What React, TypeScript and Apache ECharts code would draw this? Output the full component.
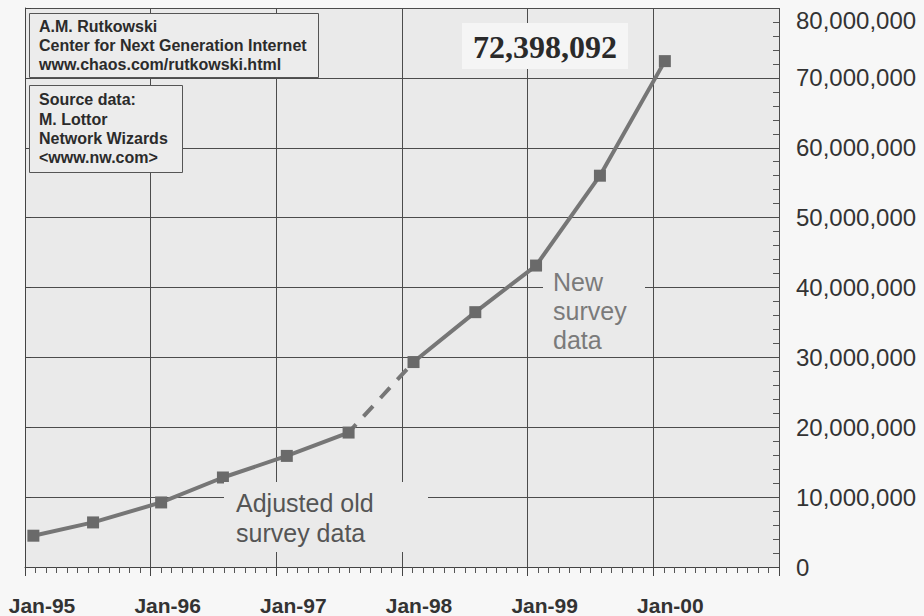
import React, { useEffect, useRef } from 'react';
import * as echarts from 'echarts';

// x positions are months since Jan-95
const yearLabels = ['Jan-95', 'Jan-96', 'Jan-97', 'Jan-98', 'Jan-99', 'Jan-00'];
const oldMonths = [0.8, 6.5, 13.0, 18.9, 25.0, 30.9];
const oldValues = [4480000, 6380000, 9240000, 12810000, 15900000, 19240000];
const newMonths = [37.1, 43.0, 48.8, 54.9, 61.1];
const newValues = [29330000, 36470000, 43140000, 56000000, 72398092];

const yTickLabel = (v: number) => v.toLocaleString('en-US');

const PLOT_BG = '#eaeaea';
const LINE = '#767676';
const MARK = '#6a6a6a';
const GRIDLINE = '#4c4c4c';

export default function App() {
  const ref = useRef<HTMLDivElement>(null);
  useEffect(() => {
    if (!ref.current) return;
    const chart = echarts.init(ref.current, null, { renderer: 'svg' });
    const txt = (x: number, y: number, text: string, font: any, extra: any = {}) => ({
      type: 'text',
      x,
      y,
      z: 101,
      style: {
        text,
        fill: font.color,
        fontSize: font.size,
        fontFamily: font.family,
        fontWeight: font.weight,
        lineHeight: font.lineHeight,
        align: extra.align || 'left',
        verticalAlign: extra.verticalAlign || 'top',
        textAlign: extra.align || 'left',
        textVerticalAlign: extra.verticalAlign || 'top',
      },
    });
    const rect = (x: number, y: number, w: number, h: number, fill: string, stroke?: string) => ({
      type: 'rect',
      z: 100,
      shape: { x, y, width: w, height: h },
      style: { fill, stroke: stroke || 'none', lineWidth: stroke ? 1 : 0 },
    });
    const yCommon = {
      type: 'value',
      min: 0,
      max: 80000000,
      interval: 10000000,
    };
    const option: any = {
      animation: false,
      backgroundColor: '#f7f7f7',
      grid: {
        left: 25,
        top: 8,
        right: 145,
        bottom: 48,
        show: true,
        backgroundColor: PLOT_BG,
        borderWidth: 0,
      },
      xAxis: {
        type: 'value',
        min: 0,
        max: 72,
        interval: 12,
        axisLine: { show: true, onZero: false, lineStyle: { color: '#444', width: 1 } },
        axisTick: { show: true, length: 9, lineStyle: { color: '#444', width: 1 } },
        minorTick: { show: true, splitNumber: 12, length: 6, lineStyle: { color: '#555', width: 1 } },
        splitLine: { show: true, lineStyle: { color: GRIDLINE, width: 1 } },
        axisLabel: {
          formatter: (v: number) => yearLabels[Math.round(v / 12)] ?? '',
          fontFamily: 'Liberation Sans',
          fontWeight: 'bold',
          fontSize: 21,
          color: '#333',
          margin: 28,
          padding: [0, 0, 0, 34],
        },
      },
      yAxis: [
        {
          ...yCommon,
          position: 'right',
          axisLine: { show: true, lineStyle: { color: '#444', width: 1 } },
          axisTick: { show: true, length: 6, lineStyle: { color: '#444', width: 1 } },
          minorTick: { show: false },
          splitLine: { show: true, lineStyle: { color: GRIDLINE, width: 1 } },
          axisLabel: {
            margin: 17,
            fontFamily: 'Liberation Sans',
            fontSize: 24,
            color: '#333',
            formatter: (v: number) => (v >= 80000000 ? '{top|' + yTickLabel(v) + '}' : yTickLabel(v)),
            rich: {
              top: { padding: [24, 0, 0, 0], fontFamily: 'Liberation Sans', fontSize: 24, color: '#333' },
            },
          },
        },
        {
          ...yCommon,
          position: 'left',
          offset: -754,
          axisLine: { show: false },
          axisTick: { show: false },
          minorTick: { show: true, splitNumber: 5, length: 6, lineStyle: { color: '#555', width: 1 } },
          splitLine: { show: false },
          axisLabel: { show: false },
        },
      ],
      series: [
        {
          type: 'line',
          data: oldMonths.map((m, i) => [m, oldValues[i]]),
          symbol: 'rect',
          symbolSize: 12,
          itemStyle: { color: MARK },
          lineStyle: { color: LINE, width: 4 },
          z: 3,
        },
        {
          type: 'line',
          data: [
            [oldMonths[oldMonths.length - 1], oldValues[oldValues.length - 1]],
            [newMonths[0], newValues[0]],
          ],
          symbol: 'none',
          lineStyle: { color: LINE, width: 4, type: [14, 11], dashOffset: 3 },
          z: 2,
        },
        {
          type: 'line',
          data: newMonths.map((m, i) => [m, newValues[i]]),
          symbol: 'rect',
          symbolSize: 12,
          itemStyle: { color: MARK },
          lineStyle: { color: LINE, width: 4 },
          z: 3,
        },
      ],
      graphic: [
        rect(29.5, 13.5, 289, 64, '#ececec', '#555'),
        txt(39, 16.5, 'A.M. Rutkowski\nCenter for Next Generation Internet\nwww.chaos.com/rutkowski.html', {
          color: '#2b2b2b', size: 16, family: 'Liberation Sans', weight: 'bold', lineHeight: 19,
        }),
        rect(29.5, 85.5, 153, 87, '#ececec', '#555'),
        txt(39, 90.3, 'Source data:\nM. Lottor\nNetwork Wizards\n<www.nw.com>', {
          color: '#2b2b2b', size: 16, family: 'Liberation Sans', weight: 'bold', lineHeight: 19.3,
        }),
        rect(462, 23, 166, 46, '#f5f5f5'),
        txt(545, 47, '72,398,092', {
          color: '#2a2a2a', size: 32, family: 'Liberation Serif', weight: 'bold', lineHeight: 36,
        }, { align: 'center', verticalAlign: 'middle' }),
        rect(224, 482, 204, 70, PLOT_BG),
        txt(236, 488, 'Adjusted old\nsurvey data', {
          color: '#555', size: 25, family: 'Liberation Sans', weight: 'normal', lineHeight: 30,
        }),
        rect(543, 266, 102, 86, PLOT_BG),
        txt(553, 267.5, 'New\nsurvey\ndata', {
          color: '#7a7a7a', size: 25, family: 'Liberation Sans', weight: 'normal', lineHeight: 29,
        }),
      ],
    };
    chart.setOption(option);
    return () => chart.dispose();
  }, []);
  return (
    <div
      ref={ref}
      style={{ position: 'fixed', left: 0, top: 0, width: 924, height: 616 }}
    />
  );
}
